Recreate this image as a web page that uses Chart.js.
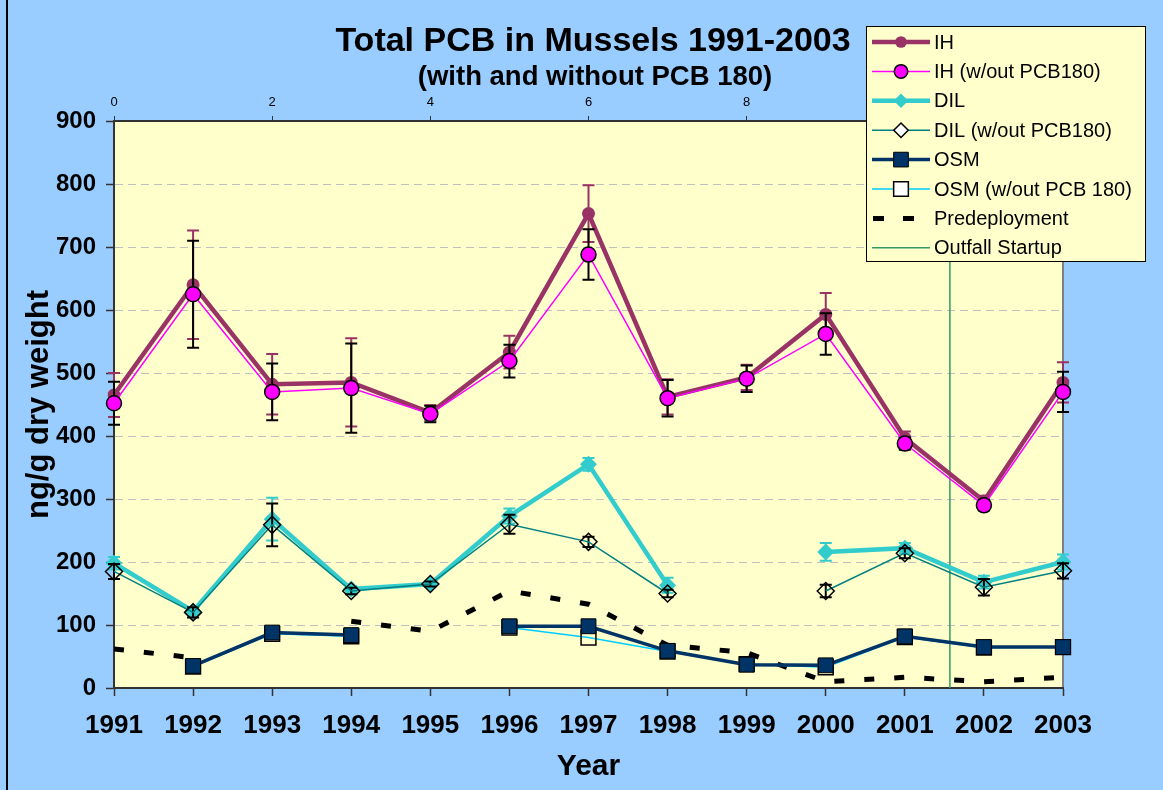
<!DOCTYPE html>
<html>
<head>
<meta charset="utf-8">
<title>Total PCB in Mussels 1991-2003</title>
<script src="https://cdn.jsdelivr.net/npm/chart.js@4.4.1/dist/chart.umd.min.js"></script>
<style>
    html, body { margin: 0; padding: 0; background: #99CCFF; }
    #wrap { width: 1163px; height: 790px; position: relative; }
</style>
</head>
<body>
<div id="wrap"><canvas id="chartPCB" width="1163" height="790"></canvas></div>
<script>
// ================= DATOS =================
const years = ['1991', '1992', '1993', '1994', '1995', '1996', '1997', '1998', '1999', '2000', '2001', '2002', '2003'];

const ih       = [465, 640, 482, 485, 437, 533, 753, 462, 493, 593, 397, 297, 485];
const ihErr    = [35, 86, 48, 70, 12, 26, 45, 28, 20, 34, 10, 8, 32];
const ihWo     = [452, 625, 470, 476, 435, 519, 688, 460, 491, 562, 388, 290, 470];
const ihWoErr  = [34, 85, 45, 71, 13, 26, 40, 29, 21, 33, 10, 8, 32];

const dil      = [198, 122, 268, 157, 165, 273, 355, 163, null, 216, 222, 168, 200];
const dilErr   = [10, 6, 34, 5, 4, 12, 10, 12, null, 14, 8, 10, 12];
const dilWo    = [185, 120, 259, 154, 165, 260, 232, 150, null, 154, 214, 160, 186];
const dilWoErr = [12, 8, 34, 5, 4, 15, 8, 6, null, 10, 8, 13, 12];

const osm      = [null, 35, 88, 84, null, 98, 98, 59, 37, 36, 82, 65, 65];
const osmWo    = [null, 34, 86, 82, null, 96, 80, 58, 38, 33, 81, 64, 65];

const predeploy = [62, 48, null, 106, 90, 154, 133, 68, 56, 10, 17, 10, 17];

// eje secundario superior (0..12) y arranque del emisario
const topTicks = [0, 2, 4, 6, 8, 10, 12];
const outfallX = 10.57;
const outfallY = [0, 900];

const yTicks = [0, 100, 200, 300, 400, 500, 600, 700, 800, 900];

const FONT = '"Liberation Sans", Arial, sans-serif';

// ================= PLUGINS =================
const backgroundPlugin = {
    id: 'fondo',
    beforeDraw(chart) {
        const { ctx, chartArea: a } = chart;
        ctx.save();
        ctx.fillStyle = '#99CCFF';
        ctx.fillRect(0, 0, chart.width, chart.height);
        ctx.fillStyle = '#000';
        ctx.fillRect(6, 0, 2, chart.height);
        ctx.fillStyle = '#FFFFCC';
        ctx.fillRect(a.left, a.top, a.right - a.left, a.bottom - a.top);
        ctx.strokeStyle = '#808080';
        ctx.lineWidth = 2;
        ctx.beginPath();
        ctx.moveTo(a.right, a.top);
        ctx.lineTo(a.right, a.bottom);
        ctx.stroke();
        ctx.restore();
    }
};

// barras de error dibujadas con cada serie
const errorBarsPlugin = {
    id: 'barrasError',
    beforeDatasetDraw(chart, args) {
        const ds = chart.data.datasets[args.index];
        if (!ds.errors) return;
        const { ctx } = chart;
        const yScale = chart.scales.y;
        const meta = args.meta;
        ctx.save();
        ctx.strokeStyle = ds.errColor;
        ctx.lineWidth = 2;
        ds.data.forEach((v, i) => {
            const e = ds.errors[i];
            if (v == null || e == null) return;
            const x = meta.data[i].x;
            const yTop = yScale.getPixelForValue(v + e);
            const yBot = yScale.getPixelForValue(v - e);
            ctx.beginPath();
            ctx.moveTo(x, yTop); ctx.lineTo(x, yBot);
            ctx.moveTo(x - 6, yTop); ctx.lineTo(x + 6, yTop);
            ctx.moveTo(x - 6, yBot); ctx.lineTo(x + 6, yBot);
            ctx.stroke();
        });
        ctx.restore();
    }
};

const titlePlugin = {
    id: 'titulos',
    afterDraw(chart) {
        const { ctx } = chart;
        ctx.save();
        ctx.fillStyle = '#000';
        ctx.textAlign = 'center';
        ctx.textBaseline = 'middle';
        ctx.font = 'bold 34px ' + FONT;
        ctx.fillText('Total PCB in Mussels 1991-2003', 593, 42);
        ctx.font = 'bold 27.5px ' + FONT;
        ctx.fillText('(with and without PCB 180)', 595, 77);
        ctx.restore();
    }
};

const legendOrder = ['IH', 'IH (w/out PCB180)', 'DIL', 'DIL (w/out PCB180)', 'OSM', 'OSM (w/out PCB 180)', 'Predeployment', 'Outfall Startup'];

const legendPlugin = {
    id: 'leyenda',
    afterDraw(chart) {
        const { ctx } = chart;
        const bx = 866, by = 26, bw = 279, bh = 235;
        ctx.save();
        ctx.fillStyle = '#FFFFCC';
        ctx.fillRect(bx, by, bw, bh);
        ctx.strokeStyle = '#000';
        ctx.lineWidth = 1;
        ctx.strokeRect(bx + 0.5, by + 0.5, bw, bh);
        legendOrder.forEach((name, k) => {
            const ds = chart.data.datasets.find(d => d.label === name);
            const cy = 42 + k * 29.4;
            ctx.save();
            ctx.strokeStyle = ds.borderColor;
            ctx.lineWidth = ds.borderWidth;
            ctx.beginPath();
            if (ds.borderDash) {
                ctx.setLineDash([11, 19]);
                ctx.moveTo(873, cy); ctx.lineTo(930, cy);
            } else {
                ctx.moveTo(872, cy); ctx.lineTo(930, cy);
            }
            ctx.stroke();
            ctx.restore();
            if (ds.pointRadius > 0) {
                const r = ds.pointRadius;
                ctx.fillStyle = ds.pointBackgroundColor;
                ctx.strokeStyle = ds.pointBorderColor;
                ctx.lineWidth = ds.pointBorderWidth;
                ctx.beginPath();
                if (ds.pointStyle === 'circle') {
                    ctx.arc(901, cy, r * 0.9, 0, Math.PI * 2);
                } else if (ds.pointStyle === 'rectRot') {
                    const d = r * 0.85;
                    ctx.moveTo(901, cy - d); ctx.lineTo(901 + d, cy);
                    ctx.lineTo(901, cy + d); ctx.lineTo(901 - d, cy); ctx.closePath();
                } else {
                    const h = r * 0.7;
                    ctx.rect(901 - h, cy - h, h * 2, h * 2);
                }
                if (ds.pointBackgroundColor === 'rgba(0,0,0,0)') {
                    ctx.fillStyle = '#FFFFFF';
                }
                ctx.fill();
                if (ds.pointBorderWidth > 0) ctx.stroke();
            }
            ctx.fillStyle = '#000';
            ctx.font = '20px ' + FONT;
            ctx.textAlign = 'left';
            ctx.textBaseline = 'middle';
            ctx.fillText(name, 934, cy + 1);
        });
        ctx.restore();
    }
};

// ================= GRÁFICO =================
const ctx = document.getElementById('chartPCB');

new Chart(ctx, {
    type: 'line',
    data: {
        labels: years,
        datasets: [
            {
                label: 'IH (w/out PCB180)', data: ihWo, order: 1,
                errors: ihWoErr, errColor: '#000000',
                borderColor: '#FF00FF', borderWidth: 1.5,
                pointStyle: 'circle', pointRadius: 7.5,
                pointBackgroundColor: '#FF00FF', pointBorderColor: '#000', pointBorderWidth: 1.5
            },
            {
                label: 'IH', data: ih, order: 2,
                errors: ihErr, errColor: '#993366',
                borderColor: '#993366', borderWidth: 4.5,
                pointStyle: 'circle', pointRadius: 6.5,
                pointBackgroundColor: '#993366', pointBorderColor: '#993366', pointBorderWidth: 0
            },
            {
                label: 'DIL (w/out PCB180)', data: dilWo, order: 3,
                errors: dilWoErr, errColor: '#000000',
                borderColor: '#008080', borderWidth: 1.5,
                pointStyle: 'rectRot', pointRadius: 8.5,
                pointBackgroundColor: 'rgba(0,0,0,0)', pointBorderColor: '#000', pointBorderWidth: 1.5
            },
            {
                label: 'DIL', data: dil, order: 4,
                errors: dilErr, errColor: '#33CCCC',
                borderColor: '#33CCCC', borderWidth: 4.5,
                pointStyle: 'rectRot', pointRadius: 8.5,
                pointBackgroundColor: '#33CCCC', pointBorderColor: '#33CCCC', pointBorderWidth: 0
            },
            {
                label: 'OSM', data: osm, order: 5,
                borderColor: '#003366', borderWidth: 3.5,
                pointStyle: 'rect', pointRadius: 10.5,
                pointBackgroundColor: '#003366', pointBorderColor: '#000', pointBorderWidth: 1
            },
            {
                label: 'OSM (w/out PCB 180)', data: osmWo, order: 6,
                borderColor: '#00CCFF', borderWidth: 1.5,
                pointStyle: 'rect', pointRadius: 10.5,
                pointBackgroundColor: 'rgba(0,0,0,0)', pointBorderColor: '#000', pointBorderWidth: 1.5
            },
            {
                label: 'Predeployment', data: predeploy, order: 7,
                borderColor: '#000000', borderWidth: 5, borderDash: [10, 20],
                pointRadius: 0
            },
            {
                label: 'Outfall Startup', order: 8, xAxisID: 'x2',
                data: outfallY.map(v => ({ x: outfallX, y: v })),
                borderColor: '#339966', borderWidth: 1.5, pointRadius: 0
            }
        ]
    },
    options: {
        responsive: false,
        animation: false,
        events: [],
        spanGaps: false,
        layout: { padding: { left: 0, top: 0, right: 100, bottom: 0 } },
        plugins: {
            legend: { display: false },
            tooltip: { enabled: false },
            title: { display: false }
        },
        scales: {
            x: {
                type: 'category',
                position: 'bottom',
                offset: false,
                afterFit: s => { s.height = 102; },
                grid: { drawOnChartArea: false, drawTicks: true, tickLength: 8, tickColor: '#333333', tickWidth: 1.5 },
                border: { color: '#333333', width: 2 },
                ticks: { color: '#000', font: { family: FONT, size: 26, weight: 'bold' }, padding: 14, maxRotation: 0, autoSkip: false },
                title: { display: true, text: 'Year', color: '#000', font: { family: FONT, size: 30, weight: 'bold' }, padding: { top: 0, bottom: 5 } }
            },
            x2: {
                type: 'linear',
                position: 'top',
                min: 0, max: 12,
                afterFit: s => { s.height = 121; },
                afterBuildTicks: s => { s.ticks = topTicks.map(v => ({ value: v })); },
                grid: { drawOnChartArea: false, drawTicks: true, tickLength: 5, tickColor: '#333333' },
                border: { color: '#333333', width: 2 },
                ticks: { color: '#000', font: { family: FONT, size: 13 }, padding: 6, maxRotation: 0 }
            },
            y: {
                min: 0, max: 900,
                afterFit: s => { s.width = 114; },
                afterBuildTicks: s => { s.ticks = yTicks.map(v => ({ value: v })); },
                grid: { color: '#C0C0C0', lineWidth: 1, drawTicks: true, tickLength: 8, tickColor: '#333333', tickWidth: 1.5 },
                border: { color: '#333333', width: 2, dash: [8, 5] },
                ticks: { color: '#000', font: { family: FONT, size: 24, weight: 'bold' }, padding: 10 },
                title: { display: true, text: 'ng/g dry weight', color: '#000', font: { family: FONT, size: 31, weight: 'bold' }, padding: { top: 21, bottom: 0 } }
            }
        }
    },
    plugins: [backgroundPlugin, errorBarsPlugin, titlePlugin, legendPlugin]
});
</script>
</body>
</html>
